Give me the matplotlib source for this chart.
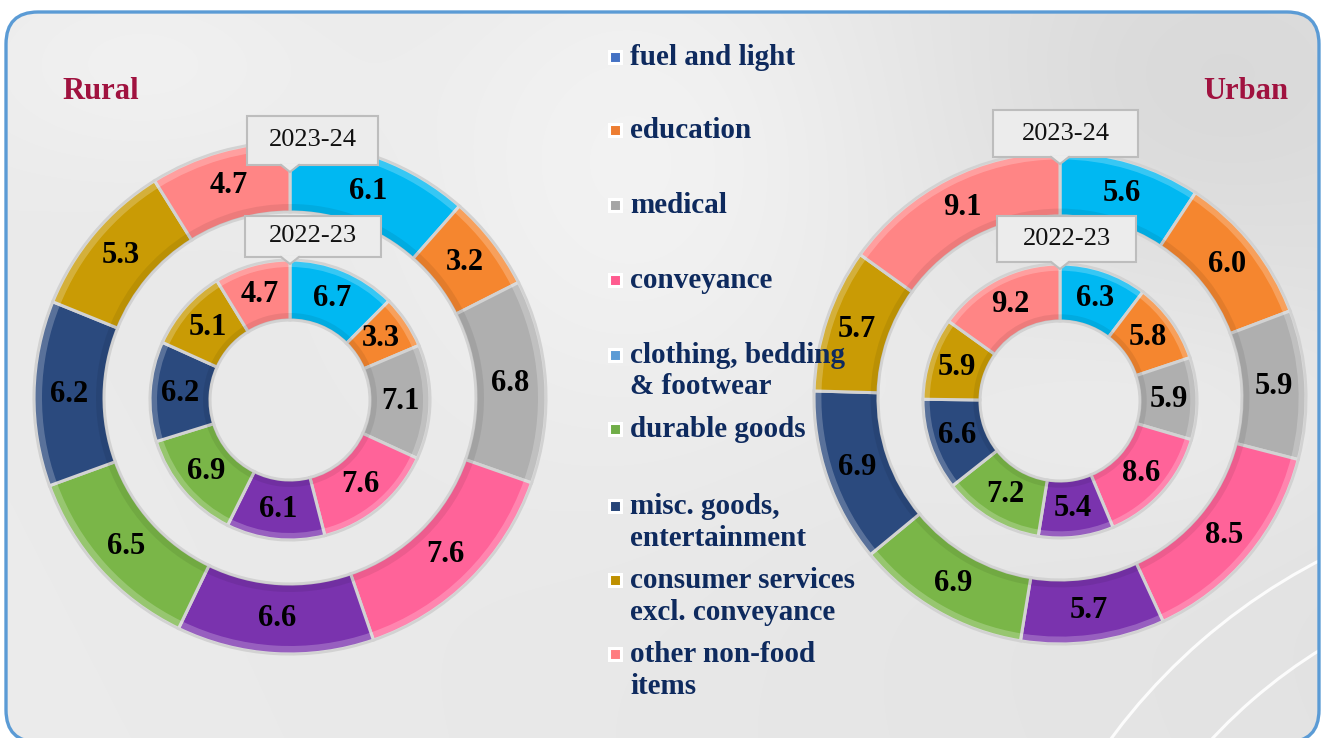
"""Rural / urban doughnut charts of non-food expenditure growth."""

import numpy as np
from matplotlib import pyplot as plt
from matplotlib.patches import FancyBboxPatch, Polygon, Rectangle, Arc

W, H = 1325, 738

# data (clockwise from 12 o'clock)
ring_colors = ['#00B8F2', '#F5862F', '#AFAFAF', '#FF6399', '#7A33AE',
               '#7AB648', '#2B4A7E', '#C99B05', '#FF8585']
rural_2324 = [6.1, 3.2, 6.8, 7.6, 6.6, 6.5, 6.2, 5.3, 4.7]
rural_2223 = [6.7, 3.3, 7.1, 7.6, 6.1, 6.9, 6.2, 5.1, 4.7]
urban_2324 = [5.6, 6.0, 5.9, 8.5, 5.7, 6.9, 6.9, 5.7, 9.1]
urban_2223 = [6.3, 5.8, 5.9, 8.6, 5.4, 7.2, 6.6, 5.9, 9.2]
years = ['2023-24', '2022-23']

legend_labels = ['fuel and light', 'education', 'medical', 'conveyance',
                 'clothing, bedding\n& footwear', 'durable goods',
                 'misc. goods,\nentertainment',
                 'consumer services\nexcl. conveyance',
                 'other non-food\nitems']
legend_colors = ['#4472C4', '#ED7D31', '#A5A5A5', '#FF5B8F', '#5B9BD5',
                 '#70AD47', '#264478', '#BF9000', '#FF7C80']
legend_base = [65, 138, 213, 288, 363, 437, 514, 588, 662]

SERIF = 'Liberation Serif'
NAVY = '#0E2A5E'
MAROON = '#A0123F'


def Y(y):
    """Pixel row (from top) -> data y."""
    return H - y


def donut(ax, vals, cx, cy, r, w):
    total = sum(vals)
    wedges, _, autotexts = ax.pie(
        vals, colors=ring_colors, radius=r, center=(cx, Y(cy)),
        startangle=90, counterclock=False,
        wedgeprops=dict(width=w, edgecolor='#d2d2d2', linewidth=2.2),
        autopct=lambda p: f'{p * total / 100:.1f}',
        pctdistance=(r - w / 2) / r,
        textprops=dict(fontsize=22, fontweight='bold', family=SERIF,
                       color='black'))
    for t in autotexts:
        t.set_zorder(4)
    # soft bevel: light rim outside, darker rim inside
    ax.pie(vals, radius=r - 1, center=(cx, Y(cy)),
           startangle=90, counterclock=False,
           wedgeprops=dict(width=w * 0.1, edgecolor='none',
                           facecolor=(1, 1, 1, 0.22)))
    ax.pie(vals, radius=r - w * 0.9 + 1, center=(cx, Y(cy)),
           startangle=90, counterclock=False,
           wedgeprops=dict(width=w * 0.1, edgecolor='none',
                           facecolor=(0, 0, 0, 0.07)))
    return wedges


def year_box(ax, text, x0, y0, x1, y1, px):
    ax.add_patch(Rectangle((x0, Y(y1)), x1 - x0, y1 - y0, fc='#ececec',
                           ec='#bdbdbd', lw=1.5, zorder=6))
    ax.add_patch(Polygon([(px - 9, Y(y1) + 1.5), (px, Y(y1 + 7)),
                          (px + 9, Y(y1) + 1.5)], closed=True,
                         fc='#ececec', ec='none', zorder=7))
    ax.plot([px - 9, px, px + 9], [Y(y1), Y(y1 + 7), Y(y1)],
            color='#bdbdbd', lw=1.5, zorder=7)
    ax.text((x0 + x1) / 2, Y((y0 + y1) / 2), text, ha='center',
            va='center', fontsize=19, family=SERIF, color='#111111',
            zorder=8)


fig = plt.figure(figsize=(W / 100, H / 100), dpi=100)
fig.patch.set_facecolor('white')
ax = fig.add_axes([0, 0, 1, 1])

# background panel with soft grey shading
yy, xx = np.mgrid[0:H, 0:W]
bg = 0.915 - 0.035 * (xx / W) + 0.01 * (yy / H)
bg += 0.05 * np.exp(-(((xx - 650) / 260) ** 2 + ((yy - 150) / 300) ** 2))
bg += 0.03 * np.exp(-(((xx - 150) / 200) ** 2 + ((yy - 60) / 120) ** 2))
bg -= 0.03 * np.exp(-(((xx - 1200) / 220) ** 2 + ((yy - 80) / 160) ** 2))
bg += 0.03 * np.exp(-(((xx - 1150) / 250) ** 2 + ((yy - 420) / 120) ** 2))
bg = np.clip(bg, 0, 1)
panel = FancyBboxPatch((6, Y(742)), W - 12, 730,
                       boxstyle='round,pad=0,rounding_size=32',
                       fc='none', ec='#5B9BD5', lw=2.4, zorder=2)
img = ax.imshow(np.dstack([bg, bg, bg]), extent=(0, W, 0, H),
                origin='upper', zorder=0)
ax.add_patch(panel)
img.set_clip_path(panel)

# faint white swooshes in the lower right
for rad in [608, 530, 450]:
    arc = Arc((1600, Y(1100)), 2 * rad, 2 * rad, theta1=112, theta2=150,
              color='white', lw=2.2, alpha=0.9, zorder=1)
    ax.add_patch(arc)
    arc.set_clip_path(panel)

# doughnuts
donut(ax, rural_2324, 290, 398, 256, 70)
donut(ax, rural_2223, 290, 400, 140, 60)
donut(ax, urban_2324, 1060, 398, 246, 64)
donut(ax, urban_2223, 1060, 401, 137, 57)

year_box(ax, years[0], 247, 116, 378, 165, 290)
year_box(ax, years[1], 245, 216, 381, 257, 290)
year_box(ax, years[0], 993, 110, 1138, 157, 1060)
year_box(ax, years[1], 997, 216, 1136, 262, 1060)

ax.text(62, Y(99), 'Rural', fontsize=22, fontweight='bold', family=SERIF,
        color=MAROON, va='baseline', ha='left')
ax.text(1288, Y(99), 'Urban', fontsize=22, fontweight='bold', family=SERIF,
        color=MAROON, va='baseline', ha='right')

# legend (one text per line so every first line sits on its own baseline)
for lab, col, yb in zip(legend_labels, legend_colors, legend_base):
    ax.plot(615, Y(yb - 8), marker='s', ms=9, mfc=col, mec='white', mew=2.2,
            zorder=5)
    for i, line in enumerate(lab.split('\n')):
        ax.text(630, Y(yb + 31.5 * i), line, fontsize=21, fontweight='bold',
                family=SERIF, color=NAVY, va='baseline', ha='left')

ax.set_xlim(0, W)
ax.set_ylim(0, H)
ax.set_aspect('auto')
ax.axis('off')

fig.savefig('out.png', dpi=100, facecolor='white')
